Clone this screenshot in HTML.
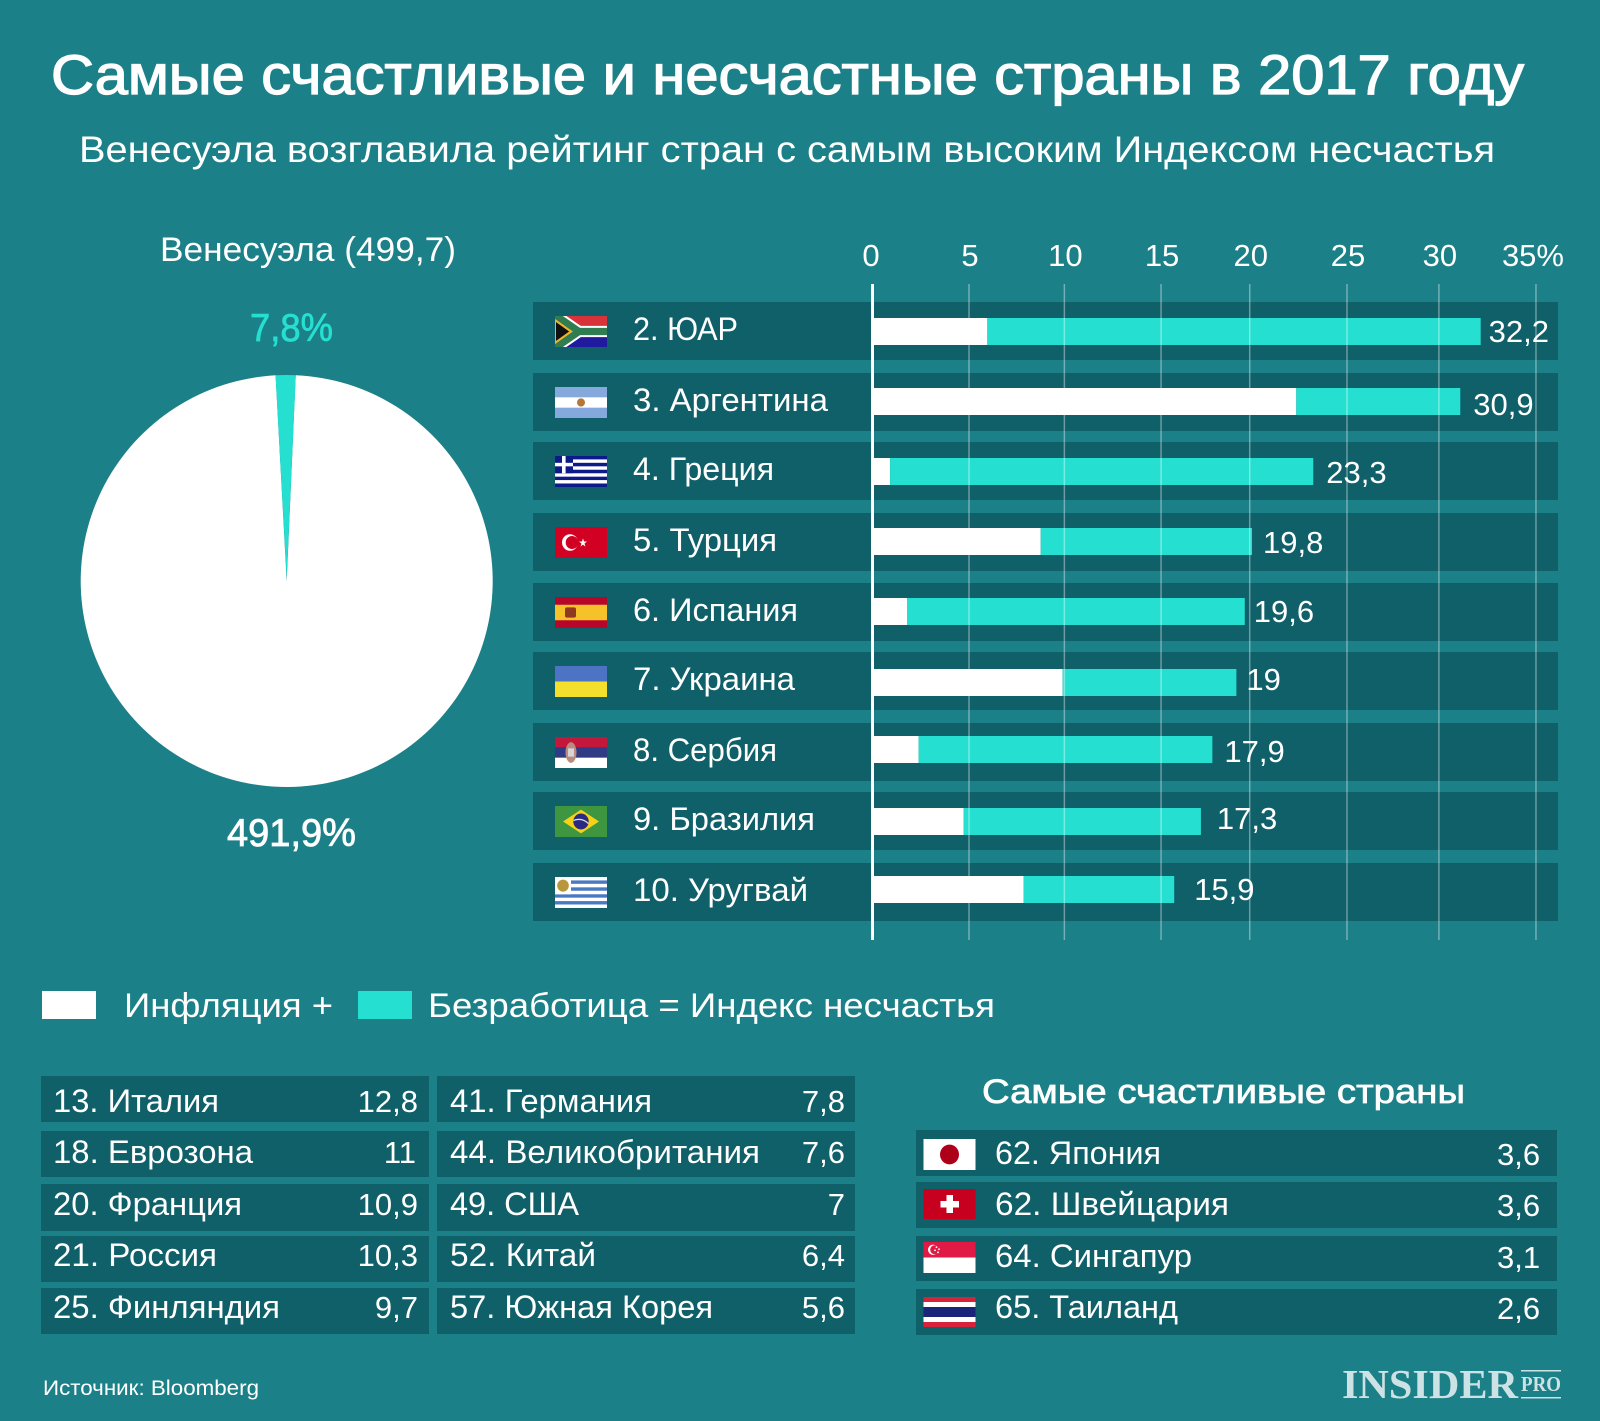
<!DOCTYPE html>
<html lang="ru">
<head>
<meta charset="utf-8">
<title>Самые счастливые и несчастные страны в 2017 году</title>
<style>
html,body{margin:0;padding:0;background:#1c8088;width:1600px;height:1421px;overflow:hidden}
svg{display:block}
text{font-family:"Liberation Sans","Noto Sans CJK SC",sans-serif;fill:#fff}
.med{stroke:#fff;stroke-width:.7px}
.row{fill:#10606a}
.t31{font-size:31px}
.t34{font-size:34px}
</style>
</head>
<body>
<svg id="root" xmlns="http://www.w3.org/2000/svg" width="1600" height="1421" viewBox="0 0 1600 1421">
<defs>
<symbol id="f-za" viewBox="0 0 52 30" preserveAspectRatio="none"><rect width="52" height="15" fill="#d8333a"/><rect y="15" width="52" height="15" fill="#1f1a9e"/><path d="M0 -1L24 15H52M0 31L24 15" stroke="#fff" stroke-width="11" fill="none"/><path d="M0 -1L24 15H52M0 31L24 15" stroke="#2f7d50" stroke-width="7" fill="none"/><path d="M0 4L16 15L0 26Z" fill="#111" stroke="#f2b32a" stroke-width="2"/></symbol>
<symbol id="f-ar" viewBox="0 0 52 30" preserveAspectRatio="none"><rect width="52" height="30" fill="#85a9dc"/><rect y="10" width="52" height="10" fill="#fff"/><circle cx="26" cy="15" r="4" fill="#b5763a"/></symbol>
<symbol id="f-gr" viewBox="0 0 52 30" preserveAspectRatio="none"><rect width="52" height="30" fill="#0d1a8a"/><rect y="3.3" width="52" height="3.3" fill="#fff"/><rect y="10" width="52" height="3.3" fill="#fff"/><rect y="16.7" width="52" height="3.3" fill="#fff"/><rect y="23.3" width="52" height="3.3" fill="#fff"/><rect width="18" height="16.7" fill="#0d1a8a"/><rect x="7" width="3.6" height="16.7" fill="#fff"/><rect y="6.6" width="18" height="3.4" fill="#fff"/></symbol>
<symbol id="f-tr" viewBox="0 0 52 30" preserveAspectRatio="none"><rect width="52" height="30" fill="#d20022"/><circle cx="15" cy="15" r="8" fill="#fff"/><circle cx="17" cy="15" r="6.3" fill="#d20022"/><path d="M28 11l1 3h3l-2.500 2 1 3-2.500-2-2.500 2 1-3-2.500-2h3z" fill="#fff"/></symbol>
<symbol id="f-es" viewBox="0 0 52 30" preserveAspectRatio="none"><rect width="52" height="30" fill="#b8062a"/><rect y="7.500" width="52" height="15" fill="#f6c229"/><rect x="10" y="10" width="11" height="10" rx="2" fill="#8f3a20"/></symbol>
<symbol id="f-ua" viewBox="0 0 52 30" preserveAspectRatio="none"><rect width="52" height="15" fill="#4d74c4"/><rect y="15" width="52" height="15" fill="#f4df2d"/></symbol>
<symbol id="f-rs" viewBox="0 0 52 30" preserveAspectRatio="none"><rect width="52" height="10" fill="#c3173c"/><rect y="10" width="52" height="10" fill="#2f3b84"/><rect y="20" width="52" height="10" fill="#fff"/><ellipse cx="16" cy="15" rx="5.500" ry="10" fill="#b98b7c"/><rect x="13" y="11" width="6" height="8" fill="#d9d3dc"/></symbol>
<symbol id="f-br" viewBox="0 0 52 30" preserveAspectRatio="none"><rect width="52" height="30" fill="#3f9640"/><path d="M8 15L26 3.500L44 15L26 26.500Z" fill="#f5d118"/><circle cx="26" cy="15" r="7.700" fill="#2a2b80"/><path d="M18.500 14Q27 11 33.500 17" stroke="#d8e6e8" stroke-width="1.200" fill="none"/></symbol>
<symbol id="f-uy" viewBox="0 0 52 30" preserveAspectRatio="none"><rect width="52" height="30" fill="#fff"/><rect y="3.300" width="52" height="3.300" fill="#4a79c4"/><rect y="10" width="52" height="3.300" fill="#4a79c4"/><rect y="16.700" width="52" height="3.300" fill="#4a79c4"/><rect y="23.300" width="52" height="3.300" fill="#4a79c4"/><rect width="16" height="16.700" fill="#fff"/><circle cx="8" cy="8.300" r="5.800" fill="#b8963c"/></symbol>
<symbol id="f-jp" viewBox="0 0 52 30" preserveAspectRatio="none"><rect width="52" height="30" fill="#fff"/><circle cx="26" cy="15" r="9.500" fill="#ad0019"/></symbol>
<symbol id="f-ch" viewBox="0 0 52 30" preserveAspectRatio="none"><rect width="52" height="30" fill="#c8001f"/><rect x="23" y="6" width="6.500" height="18" fill="#fff"/><rect x="17" y="12" width="18.500" height="6.500" fill="#fff"/></symbol>
<symbol id="f-sg" viewBox="0 0 52 30" preserveAspectRatio="none"><rect width="52" height="15" fill="#e01a44"/><rect y="15" width="52" height="15" fill="#fff"/><circle cx="9.500" cy="7.500" r="5" fill="#fff"/><circle cx="11" cy="7.500" r="4.300" fill="#e01a44"/><circle cx="13" cy="5" r=".9" fill="#fff"/><circle cx="15.500" cy="7" r=".9" fill="#fff"/><circle cx="11.500" cy="8" r=".9" fill="#fff"/><circle cx="14.500" cy="10" r=".9" fill="#fff"/></symbol>
<symbol id="f-th" viewBox="0 0 52 30" preserveAspectRatio="none"><rect width="52" height="30" fill="#d6223a"/><rect y="5" width="52" height="20" fill="#fff"/><rect y="10" width="52" height="10" fill="#1a2478"/></symbol>
</defs>

<rect width="1600" height="1421" fill="#1c8088"/>

<text class="med" style="stroke-width:1.300px" x="51" y="94" font-size="56" textLength="1473" lengthAdjust="spacingAndGlyphs">Самые счастливые и несчастные страны в 2017 году</text>
<text x="79" y="162" font-size="37" textLength="1416" lengthAdjust="spacingAndGlyphs">Венесуэла возглавила рейтинг стран с самым высоким Индексом несчастья</text>

<text x="160" y="261" font-size="34" textLength="296" lengthAdjust="spacingAndGlyphs">Венесуэла (499,7)</text>

<g id="pie"></g>
<g id="bars"></g>

<g>
<rect x="42" y="991" width="54" height="28" fill="#fff"/>
<text x="124" y="1017" font-size="34" textLength="209" lengthAdjust="spacingAndGlyphs">Инфляция +</text>
<rect x="358" y="991" width="54" height="28" fill="#25e0d0"/>
<text x="428" y="1017" font-size="34" textLength="567" lengthAdjust="spacingAndGlyphs">Безработица = Индекс несчастья</text>
</g>

<g>
<rect class="row" x="41" y="1076" width="388" height="46"/>
<text x="53" y="1112" font-size="32" textLength="166" lengthAdjust="spacingAndGlyphs">13. Италия</text>
<text class="t31" x="418" y="1112" text-anchor="end">12,8</text>
<rect class="row" x="41" y="1131" width="388" height="46"/>
<text x="53" y="1163" font-size="32" textLength="200" lengthAdjust="spacingAndGlyphs">18. Еврозона</text>
<text class="t31" x="416" y="1163" text-anchor="end">11</text>
<rect class="row" x="41" y="1184" width="388" height="47"/>
<text x="53" y="1215" font-size="32" textLength="189" lengthAdjust="spacingAndGlyphs">20. Франция</text>
<text class="t31" x="418" y="1215" text-anchor="end">10,9</text>
<rect class="row" x="41" y="1236" width="388" height="46"/>
<text x="53" y="1266" font-size="32" textLength="164" lengthAdjust="spacingAndGlyphs">21. Россия</text>
<text class="t31" x="418" y="1266" text-anchor="end">10,3</text>
<rect class="row" x="41" y="1288" width="388" height="46"/>
<text x="53" y="1318" font-size="32" textLength="227" lengthAdjust="spacingAndGlyphs">25. Финляндия</text>
<text class="t31" x="418" y="1318" text-anchor="end">9,7</text>

<rect class="row" x="437" y="1076" width="418" height="46"/>
<text x="450" y="1112" font-size="32" textLength="202" lengthAdjust="spacingAndGlyphs">41. Германия</text>
<text class="t31" x="845" y="1112" text-anchor="end">7,8</text>
<rect class="row" x="437" y="1131" width="418" height="46"/>
<text x="450" y="1163" font-size="32" textLength="310" lengthAdjust="spacingAndGlyphs">44. Великобритания</text>
<text class="t31" x="845" y="1163" text-anchor="end">7,6</text>
<rect class="row" x="437" y="1184" width="418" height="47"/>
<text x="450" y="1215" font-size="32" textLength="129" lengthAdjust="spacingAndGlyphs">49. США</text>
<text class="t31" x="845" y="1215" text-anchor="end">7</text>
<rect class="row" x="437" y="1236" width="418" height="46"/>
<text x="450" y="1266" font-size="32" textLength="146" lengthAdjust="spacingAndGlyphs">52. Китай</text>
<text class="t31" x="845" y="1266" text-anchor="end">6,4</text>
<rect class="row" x="437" y="1288" width="418" height="46"/>
<text x="450" y="1318" font-size="32" textLength="263" lengthAdjust="spacingAndGlyphs">57. Южная Корея</text>
<text class="t31" x="845" y="1318" text-anchor="end">5,6</text>
</g>

<text class="med" x="982" y="1103" font-size="34" textLength="483" lengthAdjust="spacingAndGlyphs">Самые счастливые страны</text>
<g>
<rect class="row" x="916" y="1130" width="641" height="46"/>
<use href="#f-jp" x="923.500" y="1139" width="52" height="31"/>
<text x="995" y="1164" font-size="32" textLength="166" lengthAdjust="spacingAndGlyphs">62. Япония</text>
<text class="t31" x="1497" y="1165">3,6</text>
<rect class="row" x="916" y="1182" width="641" height="46"/>
<use href="#f-ch" x="923.500" y="1189" width="52" height="30"/>
<text x="995" y="1215" font-size="32" textLength="234" lengthAdjust="spacingAndGlyphs">62. Швейцария</text>
<text class="t31" x="1497" y="1216">3,6</text>
<rect class="row" x="916" y="1236" width="641" height="45"/>
<use href="#f-sg" x="923.500" y="1242" width="52" height="31"/>
<text x="995" y="1267" font-size="32" textLength="197" lengthAdjust="spacingAndGlyphs">64. Сингапур</text>
<text class="t31" x="1497" y="1268">3,1</text>
<rect class="row" x="916" y="1289" width="641" height="46"/>
<use href="#f-th" x="923.500" y="1297" width="52" height="30"/>
<text x="995" y="1318" font-size="32" textLength="183" lengthAdjust="spacingAndGlyphs">65. Таиланд</text>
<text class="t31" x="1497" y="1319">2,6</text>
</g>

<text x="43" y="1395" font-size="21" textLength="216" lengthAdjust="spacingAndGlyphs">Источник: Bloomberg</text>

<g>
<text x="1342" y="1398" font-size="41" font-weight="700" textLength="176" lengthAdjust="spacingAndGlyphs" style="font-family:'Liberation Serif',serif;fill:#cde2e4">INSIDER</text>
<text x="1521" y="1391" font-size="21" font-weight="700" textLength="40" lengthAdjust="spacingAndGlyphs" style="font-family:'Liberation Serif',serif;fill:#cde2e4">PRO</text>
<rect x="1521" y="1370" width="40" height="1.500" fill="#cde2e4"/>
<rect x="1521" y="1397" width="40" height="1.500" fill="#cde2e4"/>
</g>
</svg>

<script>
/* Bar chart data */
const countries = ['2. ЮАР','3. Аргентина','4. Греция','5. Турция','6. Испания','7. Украина','8. Сербия','9. Бразилия','10. Уругвай'];
const flagIds = ['za','ar','gr','tr','es','ua','rs','br','uy'];
const inflation = [6.1,22.3,1.0,8.9,1.9,10.05,2.5,4.85,8.0];
const unemployment = [25.87,8.6,22.19,11.08,17.7,9.11,15.4,12.45,7.9];
/* Totals as printed next to the bars */
const printedTotals = ['32,2','30,9','23,3','19,8','19,6','19','17,9','17,3','15,9'];
const tickValues = [0,5,10,15,20,25,30,35];
const tickLabels = ['0','5','10','15','20','25','30','35%'];
/* Gridlines: they do not sit exactly on the round values */
const gridValues = [5.14,10.14,15.21,19.86,24.96,29.78,34.87];

/* Pie chart data */
const pieValues = [7.8,491.9];
const pieLabels = ['7,8%','491,9%'];

/* Layout tweaks (hand-placed items in the original artwork), not data */
const rowNudge = [0,1,0,1,0,-1,0,-1,0];
const barNudge = [16,15,16,15,15,17,13,16,13];
const labelGap = [8,13,13,11,9,10,12,16,20];
const labelDrop = [40,42,41,40,39,38,39,37,37];
const nameWidth = [105,195,141,144,165,162,144,182,175];

const NS = 'http://www.w3.org/2000/svg';
const barsRoot = document.getElementById('bars');
const pieRoot = document.getElementById('pie');

function mk(parent, tag, attrs, content) {
  const el = document.createElementNS(NS, tag);
  for (const k in attrs) el.setAttribute(k, attrs[k]);
  if (content !== undefined) el.textContent = content;
  parent.appendChild(el);
  return el;
}

/* Axis functions */
const xScale = v => 871 + v * 19.07;
const rowTop = i => Math.round(302 + i * 70.125) + rowNudge[i];

/* Rows */
countries.forEach((name, i) => {
  const slug = flagIds[i];
  const y = rowTop(i);
  const row = mk(barsRoot, 'rect', {x: 533, y: y, width: 1025, height: 58, fill: '#10606a'});
  
  
  const flag = mk(barsRoot, 'use', {href: '#f-' + slug, x: 555, y: y + 14, width: 52, height: 31});
  
  
  const label = mk(barsRoot, 'text', {x: 633, y: y + 38, 'font-size': 32, textLength: nameWidth[i], lengthAdjust: 'spacingAndGlyphs'}, name);
  
  
});

/* Bars */
countries.forEach((name, i) => {
  const slug = flagIds[i];
  const y = rowTop(i) + barNudge[i];
  const a = inflation[i];
  const b = unemployment[i];
  const white = mk(barsRoot, 'rect', {x: xScale(0), y: y, width: xScale(a) - xScale(0), height: 27, fill: '#fff'});
  
  
  const teal = mk(barsRoot, 'rect', {x: xScale(a), y: y, width: xScale(a + b) - xScale(a), height: 27, fill: '#25e0d0'});
  
  
});

/* Gridlines and axis */
gridValues.forEach((v, i) => {
  const line = mk(barsRoot, 'line', {x1: xScale(v), x2: xScale(v), y1: 284, y2: 940, stroke: 'rgba(255,255,255,.38)', 'stroke-width': 1.5});
  
  
});
const axisLine = mk(barsRoot, 'line', {x1: xScale(0) + 1.5, x2: xScale(0) + 1.5, y1: 284, y2: 940, stroke: '#fff', 'stroke-width': 3});



tickLabels.forEach((t, i) => {
  const base = i === 0 ? 0 : gridValues[i - 1];
  const dx = i === 0 ? 0 : (i === tickLabels.length - 1 ? -3 : 1);
  const tick = mk(barsRoot, 'text', {x: xScale(base) + dx, y: 266, 'font-size': 31, 'text-anchor': 'middle'}, t);
  
  
});

/* Value labels */
countries.forEach((name, i) => {
  const slug = flagIds[i];
  const end = xScale(inflation[i] + unemployment[i]);
  const val = mk(barsRoot, 'text', {x: end + labelGap[i], y: rowTop(i) + labelDrop[i], 'font-size': 31}, printedTotals[i]);
  
  
});

/* Pie */
const pieCx = 286.7, pieCy = 581, pieR = 206;
const pieSum = pieValues[0] + pieValues[1];
const pieStart = -3.1 * Math.PI / 180;
const pieColors = ['#25e0d0', '#ffffff'];
const pieNames = ['pie-slice-unemployment', 'pie-slice-inflation'];
const apexLift = [4, 0];
const polar = a => [pieCx + pieR * Math.sin(a), pieCy - pieR * Math.cos(a)];
const startAngles = [pieStart, pieStart + pieValues[0] / pieSum * 2 * Math.PI];
[1, 0].forEach(k => {
  const a0 = startAngles[k];
  const a1 = a0 + pieValues[k] / pieSum * 2 * Math.PI;
  const p0 = polar(a0), p1 = polar(a1);
  const large = a1 - a0 > Math.PI ? 1 : 0;
  const slice = mk(pieRoot, 'path', {
    d: 'M' + pieCx + ' ' + (pieCy - apexLift[k]) + 'L' + p0[0] + ' ' + p0[1] + 'A' + pieR + ' ' + pieR + ' 0 ' + large + ' 1 ' + p1[0] + ' ' + p1[1] + 'Z',
    fill: pieColors[k]
  });
  
  
});
const pieLabelTop = mk(pieRoot, 'text', {x: 250, y: 341, 'font-size': 39, textLength: 83, lengthAdjust: 'spacingAndGlyphs', style: 'fill:#25e0d0;stroke:#25e0d0;stroke-width:.7px'}, pieLabels[0]);


const pieLabelBottom = mk(pieRoot, 'text', {x: 227, y: 846, 'font-size': 39, textLength: 129, lengthAdjust: 'spacingAndGlyphs', style: 'stroke:#fff;stroke-width:.8px'}, pieLabels[1]);


</script>
</body>
</html>
